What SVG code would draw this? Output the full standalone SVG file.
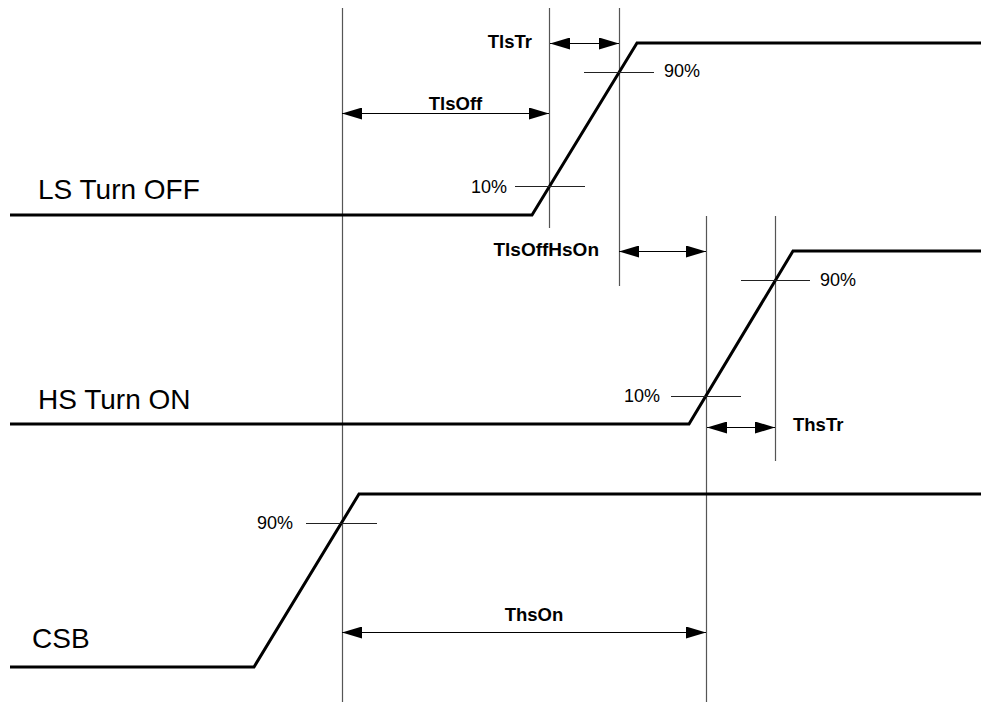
<svg xmlns="http://www.w3.org/2000/svg" width="981" height="702" viewBox="0 0 981 702">
<style>
.sig{fill:none;stroke:#000;stroke-width:3;stroke-linejoin:miter}
.vl{stroke:#555;stroke-width:1.2;fill:none}
.tick{stroke:#222;stroke-width:1;fill:none}
.dim{stroke:#000;stroke-width:1;fill:none;marker-start:url(#as);marker-end:url(#ae)}
.lbl{font-family:"Liberation Sans",Arial,sans-serif;font-size:28px;fill:#000}
.pct{font-family:"Liberation Sans",Arial,sans-serif;font-size:18px;fill:#000}
.b{font-family:"Liberation Sans",Arial,sans-serif;font-size:18.5px;font-weight:bold;fill:#000}
</style>
<defs>
<marker id="ae" markerWidth="20" markerHeight="12" refX="20" refY="6" orient="auto" markerUnits="userSpaceOnUse"><path d="M0,0 L20,6 L0,12 Z" fill="#000"/></marker>
<marker id="as" markerWidth="20" markerHeight="12" refX="0" refY="6" orient="auto" markerUnits="userSpaceOnUse"><path d="M20,0 L0,6 L20,12 Z" fill="#000"/></marker>
</defs>
<rect width="981" height="702" fill="#fff"/>
<g id="guides">
<line class="vl" x1="342.5" y1="8" x2="342.5" y2="702" stroke="#111"/>
<line class="vl" x1="549.5" y1="8" x2="549.5" y2="228"/>
<line class="vl" x1="619.5" y1="8" x2="619.5" y2="286"/>
<line class="vl" x1="706.5" y1="216" x2="706.5" y2="702"/>
<line class="vl" x1="775.5" y1="216" x2="775.5" y2="461"/>
</g>
<g id="ls-turn-off">
<text class="lbl" x="38" y="199">LS Turn OFF</text>
<polyline class="sig" points="10,215 532,215 637,43 981,43"/>
<line class="tick" x1="584" y1="72.5" x2="654" y2="72.5"/>
<text class="pct" x="664" y="77">90%</text>
<line class="tick" x1="515" y1="186.5" x2="585" y2="186.5"/>
<text class="pct" x="507" y="193" text-anchor="end">10%</text>
</g>
<g id="hs-turn-on">
<text class="lbl" x="38" y="409">HS Turn ON</text>
<polyline class="sig" points="10,424 689,424 793,251 981,251"/>
<line class="tick" x1="741" y1="280.5" x2="810" y2="280.5"/>
<text class="pct" x="820" y="286">90%</text>
<line class="tick" x1="671" y1="396.5" x2="741" y2="396.5"/>
<text class="pct" x="660" y="402" text-anchor="end">10%</text>
</g>
<g id="csb">
<text class="lbl" x="32" y="648">CSB</text>
<polyline class="sig" points="10,667 254,667 359,494 981,494"/>
<line class="tick" x1="306" y1="523.5" x2="377" y2="523.5"/>
<text class="pct" x="293" y="529" text-anchor="end">90%</text>
</g>
<g id="connectors">
<line class="dim" x1="550" y1="43.5" x2="619" y2="43.5"/>
<line class="dim" x1="342" y1="113.5" x2="549" y2="113.5"/>
<line class="dim" x1="619" y1="251.5" x2="706" y2="251.5"/>
<line class="dim" x1="707" y1="427.5" x2="775" y2="427.5"/>
<line class="dim" x1="342" y1="632.5" x2="706" y2="632.5"/>
</g>
<g id="labels">
<text class="b" x="532" y="48" text-anchor="end">TlsTr</text>
<text class="b" x="455.5" y="110" text-anchor="middle">TlsOff</text>
<text class="b" x="599" y="256" text-anchor="end" style="font-size:19px">TlsOffHsOn</text>
<text class="b" x="793" y="431">ThsTr</text>
<text class="b" x="534" y="621" text-anchor="middle">ThsOn</text>
</g>
</svg>
